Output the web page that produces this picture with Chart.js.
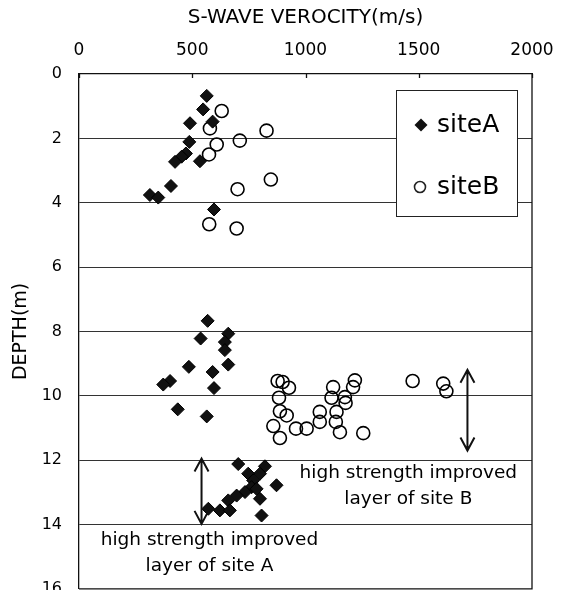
<!DOCTYPE html>
<html>
<head>
<meta charset="utf-8">
<script src="https://cdn.jsdelivr.net/npm/chart.js@4.4.0/dist/chart.umd.min.js"></script>
<style>
  html, body { margin: 0; padding: 0; background: #fff; overflow: hidden; }
  canvas { display: block; }
</style>
</head>
<body>
<canvas id="chart" width="563" height="597"></canvas>
<script>
// ─── Data ─────────────────────────────────────────────────────────────────────
const siteAVel = [564, 548, 590, 490, 487, 472, 453, 424, 534, 406, 313, 350, 596,
  568, 537, 659, 644, 644, 659, 485, 590, 402, 372, 596, 436, 564,
  703, 821, 799, 747, 769, 762, 784, 733, 799, 696, 659, 872, 571, 622, 666, 806];
const siteADepth = [0.68, 1.10, 1.48, 1.53, 2.11, 2.47, 2.57, 2.73, 2.71, 3.48, 3.76, 3.84, 4.21,
  7.67, 8.22, 8.07, 8.33, 8.58, 9.03, 9.10, 9.26, 9.54, 9.65, 9.76, 10.42, 10.64,
  12.12, 12.19, 12.42, 12.42, 12.63, 12.84, 12.89, 12.99, 13.20, 13.10, 13.25, 12.78, 13.51, 13.56, 13.56, 13.72];

const siteBVel = [630, 578, 828, 710, 608, 574, 847, 700, 575, 696,
  877, 899, 927, 883, 887, 917, 858, 887, 958, 1005, 1063, 1063,
  1122, 1115, 1174, 1177, 1137, 1134, 1152, 1210, 1218, 1255, 1473, 1608, 1622];
const siteBDepth = [1.15, 1.69, 1.76, 2.07, 2.19, 2.50, 3.28, 3.58, 4.67, 4.80,
  9.54, 9.57, 9.75, 10.06, 10.48, 10.61, 10.94, 11.31, 11.02, 11.02, 10.50, 10.81,
  9.73, 10.06, 10.04, 10.22, 10.50, 10.81, 11.13, 9.73, 9.52, 11.16, 9.54, 9.62, 9.86];

const seriesNames = ['siteA', 'siteB'];

// annotations, in data units (velocity, depth)
const arrowX = [541, 1715];
const arrowFrom = [11.95, 9.19];
const arrowTo = [13.98, 11.70];

const noteText = ['high strength improved', 'layer of site B', 'high strength improved', 'layer of site A'];
const noteX = [1454, 1454, 576, 576];
const noteY = [12.39, 13.20, 14.49, 15.30];

// ─── Helpers ──────────────────────────────────────────────────────────────────
const FONT = '"DejaVu Sans", sans-serif';
const toPoints = (xs, ys) => xs.map((v, i) => ({ x: v, y: ys[i] }));

const overlay = {
  id: 'overlay',
  afterDatasetsDraw(chart) {
    const { ctx, chartArea: a, scales: { x, y } } = chart;
    ctx.save();

    // frame, right and bottom sides + small inner ticks on top
    ctx.strokeStyle = '#111';
    ctx.lineWidth = 1.3;
    ctx.beginPath();
    ctx.moveTo(a.right, a.top);
    ctx.lineTo(a.right, a.bottom);
    ctx.lineTo(a.left, a.bottom);
    x.ticks.forEach(t => {
      const px = Math.round(x.getPixelForValue(t.value)) + 0.5;
      ctx.moveTo(px, a.top);
      ctx.lineTo(px, a.top + 4);
    });
    ctx.stroke();

    // legend box
    const lx = a.right - 136, ly = a.top + 16, lw = 121, lh = 126;
    ctx.fillStyle = '#fff';
    ctx.fillRect(lx, ly, lw, lh);
    ctx.lineWidth = 1;
    ctx.strokeStyle = '#222';
    ctx.strokeRect(lx + 0.5, ly + 0.5, lw, lh);

    ctx.fillStyle = '#111';
    ctx.beginPath();
    const dx = lx + 25, dy = ly + 35, r = 6.5;
    ctx.moveTo(dx, dy - r); ctx.lineTo(dx + r, dy); ctx.lineTo(dx, dy + r); ctx.lineTo(dx - r, dy); ctx.closePath();
    ctx.fill();
    ctx.beginPath();
    ctx.lineWidth = 1.6;
    ctx.arc(lx + 24, ly + 97, 5.5, 0, Math.PI * 2);
    ctx.stroke();

    ctx.fillStyle = '#000';
    ctx.font = '25px ' + FONT;
    ctx.textAlign = 'left';
    ctx.textBaseline = 'middle';
    ctx.fillText(seriesNames[0], lx + 41, dy);
    ctx.fillText(seriesNames[1], lx + 41, ly + 97);

    // arrows
    ctx.strokeStyle = '#111';
    ctx.lineWidth = 2;
    arrowX.forEach((v, i) => {
      const px = x.getPixelForValue(v);
      const y1 = y.getPixelForValue(arrowFrom[i]);
      const y2 = y.getPixelForValue(arrowTo[i]);
      ctx.beginPath();
      ctx.moveTo(px, y1); ctx.lineTo(px, y2);
      ctx.moveTo(px - 7, y1 + 13); ctx.lineTo(px, y1); ctx.lineTo(px + 7, y1 + 13);
      ctx.moveTo(px - 7, y2 - 13); ctx.lineTo(px, y2); ctx.lineTo(px + 7, y2 - 13);
      ctx.stroke();
    });

    // notes
    ctx.font = '18.5px ' + FONT;
    ctx.textAlign = 'center';
    ctx.fillStyle = '#000';
    noteText.forEach((t, i) => ctx.fillText(t, x.getPixelForValue(noteX[i]), y.getPixelForValue(noteY[i])));

    ctx.restore();
  }
};

// ─── Chart ────────────────────────────────────────────────────────────────────
new Chart(document.getElementById('chart'), {
  type: 'scatter',
  data: {
    datasets: [
      {
        label: seriesNames[0],
        data: toPoints(siteAVel, siteADepth),
        pointStyle: 'rectRot',
        pointRadius: 6.5,
        backgroundColor: '#111',
        borderColor: '#000',
        borderWidth: 1
      },
      {
        label: seriesNames[1],
        data: toPoints(siteBVel, siteBDepth),
        pointStyle: 'circle',
        pointRadius: 6.5,
        backgroundColor: 'rgba(0,0,0,0)',
        borderColor: '#000',
        borderWidth: 1.6
      }
    ]
  },
  options: {
    responsive: false,
    animation: false,
    layout: { padding: { left: 0, right: 31, top: 0, bottom: 0 } },
    plugins: { legend: { display: false }, tooltip: { enabled: false } },
    scales: {
      x: {
        type: 'linear',
        position: 'top',
        min: 0,
        max: 2000,
        afterFit: s => { s.height = 74; s.paddingLeft = 0; s.paddingRight = 0; },
        grid: { display: false, drawTicks: false },
        border: { display: true, color: '#111', width: 1.3 },
        ticks: { stepSize: 500, padding: 13, color: '#000', maxRotation: 0, font: { family: FONT, size: 17 }, callback: v => String(v) },
        title: { display: true, text: 'S-WAVE VEROCITY(m/s)', color: '#000', font: { family: FONT, size: 20 }, padding: { top: 6, bottom: 0 } }
      },
      y: {
        type: 'linear',
        reverse: true,
        min: 0,
        max: 16,
        afterFit: s => { s.width = 79; s.paddingTop = 0; s.paddingBottom = 0; },
        grid: {
          drawTicks: false,
          lineWidth: 1,
          color: c => (c.tick && (c.tick.value === 0 || c.tick.value === 16)) ? 'rgba(0,0,0,0)' : '#333'
        },
        border: { display: true, color: '#111', width: 1.3 },
        ticks: { stepSize: 2, padding: 17, color: '#000', font: { family: FONT, size: 16 } },
        title: { display: true, text: 'DEPTH(m)', color: '#000', font: { family: FONT, size: 19 }, padding: { top: 10, bottom: 0 } }
      }
    }
  },
  plugins: [overlay]
});
</script>
</body>
</html>
